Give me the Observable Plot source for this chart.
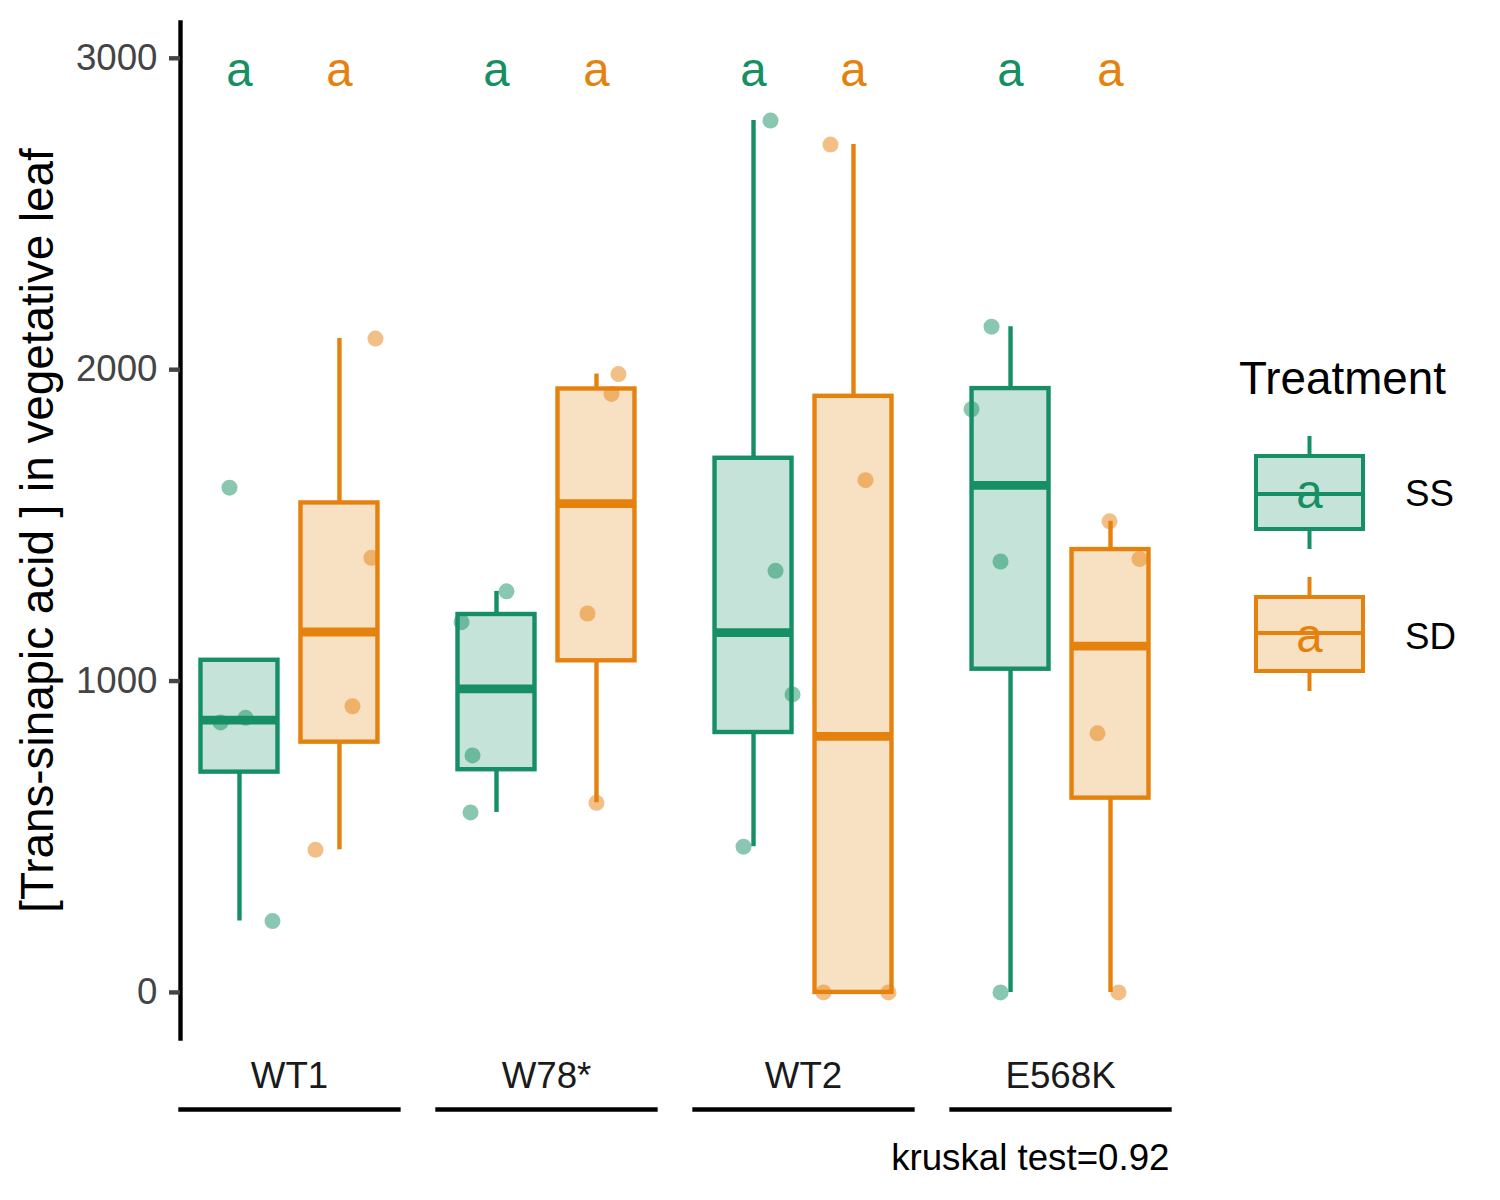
<!DOCTYPE html>
<html><head><meta charset="utf-8">
<script src="https://cdn.jsdelivr.net/npm/d3@7"></script>
<script src="https://cdn.jsdelivr.net/npm/@observablehq/plot@0.6"></script>
<style>
body{margin:0;background:#fff;font-family:"Liberation Sans",Arial,sans-serif;}
#wrap{position:relative;width:1500px;height:1200px;}
#chart{position:absolute;left:0;top:0;}
#legend{position:absolute;left:1220px;top:340px;}
</style></head><body><div id="wrap"><div id="chart"></div><div id="legend"></div></div>
<script>
// ---- data ----
const genotypes = ["WT1", "W78*", "WT2", "E568K"];
const treatments = ["SS", "SD"];
const colors = ["#168F64", "#E5820E"];
// concentration values (4 plants per group)
const WT1_SS   = [1621, 867, 882, 229];
const WT1_SD   = [2100, 1396, 919, 458];
const W78_SS   = [1288, 1189, 761, 578];
const W78_SD   = [1986, 1922, 1217, 609];
const WT2_SS   = [2800, 1354, 957, 468];
const WT2_SD   = [2723, 1645, 0, 0];
const E568K_SS = [2138, 1873, 1384, 0];
const E568K_SD = [1513, 1392, 832, 0];
// horizontal jitter of each point (in box units)
const WT1_SS_j   = [-0.10, -0.19, 0.06, 0.33];
const WT1_SD_j   = [0.36, 0.32, 0.13, -0.24];
const W78_SS_j   = [0.10, -0.35, -0.24, -0.26];
const W78_SD_j   = [0.22, 0.15, -0.09, 0.00];
const WT2_SS_j   = [0.17, 0.22, 0.39, -0.10];
const WT2_SD_j   = [-0.23, 0.12, -0.30, 0.35];
const E568K_SS_j = [-0.19, -0.39, -0.10, -0.10];
const E568K_SD_j = [-0.01, 0.29, -0.13, 0.08];
// significance letters per group
const lettersSS = ["a", "a", "a", "a"];
const lettersSD = ["a", "a", "a", "a"];
const letterY = 2960;
const yTicks = [0, 1000, 2000, 3000];
const yLabel = "[Trans-sinapic acid ] in vegetative leaf";
const caption = "kruskal test=0.92";
const legendTitle = "Treatment";

// ---- build tables ----
const groups = [
  ["WT1", "SS", WT1_SS, WT1_SS_j, lettersSS[0]], ["WT1", "SD", WT1_SD, WT1_SD_j, lettersSD[0]],
  ["W78*", "SS", W78_SS, W78_SS_j, lettersSS[1]], ["W78*", "SD", W78_SD, W78_SD_j, lettersSD[1]],
  ["WT2", "SS", WT2_SS, WT2_SS_j, lettersSS[2]], ["WT2", "SD", WT2_SD, WT2_SD_j, lettersSD[2]],
  ["E568K", "SS", E568K_SS, E568K_SS_j, lettersSS[3]], ["E568K", "SD", E568K_SD, E568K_SD_j, lettersSD[3]]
];
const points = [];
const stats = [];
for (const [g, t, vals, jit, letter] of groups) {
  const pos = treatments.indexOf(t) + 1;
  vals.forEach((v, i) => points.push({genotype: g, treatment: t, pos, value: v, jit: jit[i]}));
  const s = vals.slice().sort(d3.ascending);
  const q1 = d3.quantile(s, 0.25), med = d3.quantile(s, 0.5), q3 = d3.quantile(s, 0.75);
  const iqr = q3 - q1;
  const inl = s.filter(v => v >= q1 - 1.5 * iqr && v <= q3 + 1.5 * iqr);
  const lo = d3.min([q1, ...inl]), hi = d3.max([q3, ...inl]);
  stats.push({genotype: g, treatment: t, pos, q1, med, q3, lo, hi, letter});
}

const HW = 0.385; // half box width
const LW = 4.4;
const font = "Liberation Sans, Arial, sans-serif";

const chart = Plot.plot({
  width: 1500, height: 1200,
  marginLeft: 180, marginRight: 331, marginTop: 22, marginBottom: 162,
  style: {fontFamily: font, background: "white", overflow: "visible"},
  fx: {domain: genotypes, paddingInner: 0.152, paddingOuter: 0, round: false, label: null},
  x: {domain: [0.41, 2.59], axis: null},
  y: {domain: [-148, 3115], axis: null},
  color: {domain: treatments, range: colors},
  marks: [
    Plot.frame({anchor: "left", facetAnchor: "left", stroke: "black", strokeWidth: LW}),
    Plot.frame({anchor: "bottom", dy: 71, stroke: "black", strokeWidth: LW}),
    Plot.axisY(yTicks, {anchor: "left", facetAnchor: "left", tickSize: 11, tickPadding: 12,
      tickFormat: d => String(d), fontSize: 36.7, color: "#444", strokeWidth: LW, label: null}),
    Plot.axisFx({anchor: "bottom", tickSize: 0, tickPadding: 23, fontSize: 36.7, color: "#1a1a1a", label: null}),
    Plot.text([yLabel], {text: d => d, frameAnchor: "left", facetAnchor: "left", rotate: -90, dx: -142,
      fontSize: 45.8, fill: "black", textAnchor: "middle"}),
    Plot.text([caption], {text: d => d, frameAnchor: "bottom-right", facetAnchor: "right", textAnchor: "end",
      dy: 131, fontSize: 36.7, fill: "black"}),
    // whiskers
    Plot.ruleX(stats, {fx: "genotype", x: "pos", y1: "q3", y2: "hi", stroke: "treatment", strokeWidth: LW}),
    Plot.ruleX(stats, {fx: "genotype", x: "pos", y1: "lo", y2: "q1", stroke: "treatment", strokeWidth: LW}),
    // boxes
    Plot.rectY(stats, {fx: "genotype", x1: d => d.pos - HW, x2: d => d.pos + HW, y1: "q1", y2: "q3",
      fill: "treatment", fillOpacity: 0.25, stroke: "treatment", strokeWidth: LW}),
    // medians
    Plot.ruleY(stats, {fx: "genotype", x1: d => d.pos - HW, x2: d => d.pos + HW, y: "med",
      stroke: "treatment", strokeWidth: 2 * LW}),
    // jittered points
    Plot.dot(points, {fx: "genotype", x: d => d.pos + d.jit, y: "value", r: 8,
      fill: "treatment", fillOpacity: 0.5, stroke: null}),
    // letters
    Plot.text(stats, {fx: "genotype", x: "pos", y: () => letterY, text: "letter",
      fill: "treatment", fontSize: 47.4})
  ]
});
document.getElementById("chart").appendChild(chart);

// ---- legend ----
const lg = d3.select("#legend").append("svg").attr("width", 280).attr("height", 380)
  .style("font-family", font);
lg.append("text").attr("x", 19).attr("y", 54).attr("font-size", 45.8).attr("fill", "black").text(legendTitle);
const keys = [
  {wt: 96, bt: 116, md: 154, bb: 189, wb: 209, lab: 166, a: 168},
  {wt: 237, bt: 257, md: 293, bb: 331, wb: 351, lab: 309, a: 312}
];
treatments.forEach((t, i) => {
  const k = keys[i], c = colors[i];
  const g = lg.append("g");
  g.append("line").attr("x1", 89.5).attr("x2", 89.5).attr("y1", k.wt).attr("y2", k.bt).attr("stroke", c).attr("stroke-width", 4);
  g.append("line").attr("x1", 89.5).attr("x2", 89.5).attr("y1", k.bb).attr("y2", k.wb).attr("stroke", c).attr("stroke-width", 4);
  g.append("rect").attr("x", 36).attr("y", k.bt).attr("width", 107).attr("height", k.bb - k.bt)
    .attr("fill", c).attr("fill-opacity", 0.25).attr("stroke", c).attr("stroke-width", 4);
  g.append("line").attr("x1", 36).attr("x2", 143).attr("y1", k.md).attr("y2", k.md).attr("stroke", c).attr("stroke-width", 4);
  g.append("text").attr("x", 89.5).attr("y", k.a).attr("text-anchor", "middle").attr("font-size", 47.4).attr("fill", c).text("a");
  lg.append("text").attr("x", 185).attr("y", k.lab).attr("font-size", 36.7).attr("fill", "black").text(t);
});
</script></body></html>
